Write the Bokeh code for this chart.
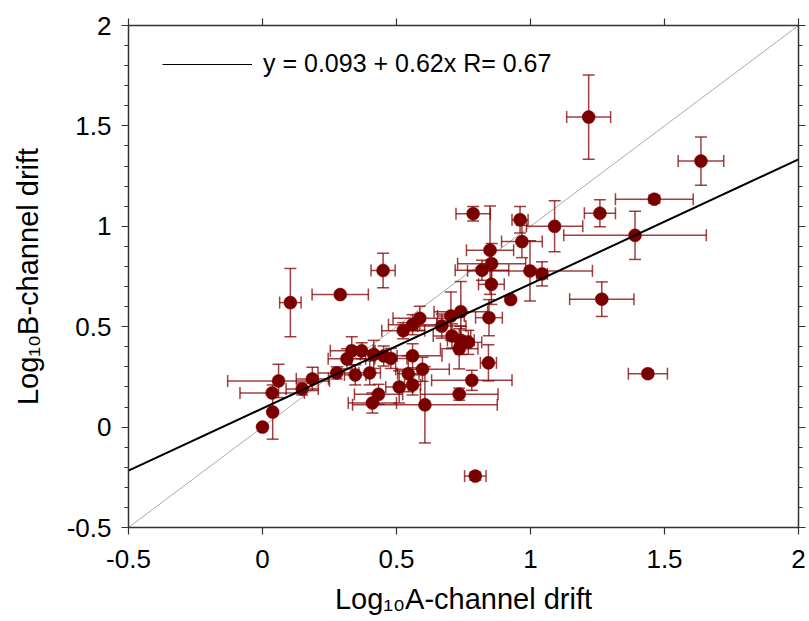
import numpy as np
from bokeh.plotting import figure
from bokeh.models import (Range1d, LinearAxis, FixedTicker, Whisker, TeeHead,
                          ColumnDataSource, Slope, Legend, LegendItem)
from bokeh.embed import file_html
from bokeh.resources import INLINE

# ---------------- data ----------------
a_drift = [0.000, 0.038, 0.036, 0.060, 0.104, 0.290, 0.450, 0.148, 0.186, 0.277,
           0.315, 0.333, 0.370, 0.346, 0.400, 0.415, 0.452, 0.479, 0.433, 0.410,
           0.510, 0.560, 0.544, 0.597, 0.606, 0.560, 0.525, 0.560, 0.587, 0.669,
           0.703, 0.740, 0.845, 0.707, 0.740, 0.768, 0.734, 0.843, 0.781, 0.734,
           0.794, 0.786, 0.961, 1.090, 1.259, 1.217, 1.636, 1.462, 1.390, 1.266,
           1.438, 0.968, 0.849, 0.855, 0.819, 0.998, 1.043, 0.854, 0.926]
b_drift = [0.000, 0.075, 0.170, 0.230, 0.620, 0.660, 0.780, 0.190, 0.240, 0.270,
           0.340, 0.380, 0.380, 0.260, 0.270, 0.362, 0.354, 0.342, 0.163, 0.120,
           0.200, 0.210, 0.266, 0.288, 0.111, 0.355, 0.480, 0.510, 0.542, 0.503,
           0.553, 0.575, 0.545, 0.454, 0.432, 0.422, 0.390, 0.320, 0.233, 0.164,
           -0.244, 1.063, 1.033, 1.000, 1.065, 1.544, 1.325, 1.135, 0.955, 0.637,
           0.266, 0.924, 0.881, 0.814, 0.781, 0.778, 0.763, 0.711, 0.635]
a_err = [0.000, 0.000, 0.120, 0.190, 0.040, 0.105, 0.045, 0.060, 0.060, 0.070,
         0.070, 0.080, 0.050, 0.040, 0.040, 0.050, 0.050, 0.060, 0.090, 0.090,
         0.050, 0.030, 0.040, 0.100, 0.270, 0.110, 0.080, 0.090, 0.100, 0.090,
         0.050, 0.100, 0.050, 0.070, 0.050, 0.050, 0.070, 0.030, 0.150, 0.145,
         0.040, 0.064, 0.030, 0.105, 0.058, 0.082, 0.085, 0.145, 0.266, 0.120,
         0.073, 0.076, 0.088, 0.127, 0.100, 0.233, 0.020, 0.048, 0.000]
b_err = [0.000, 0.135, 0.000, 0.083, 0.170, 0.000, 0.086, 0.030, 0.058, 0.030,
         0.050, 0.070, 0.040, 0.050, 0.060, 0.070, 0.050, 0.050, 0.050, 0.050,
         0.080, 0.050, 0.090, 0.060, 0.190, 0.060, 0.040, 0.050, 0.060, 0.060,
         0.120, 0.150, 0.090, 0.060, 0.070, 0.060, 0.100, 0.090, 0.050, 0.030,
         0.020, 0.036, 0.066, 0.127, 0.067, 0.210, 0.120, 0.020, 0.120, 0.086,
         0.015, 0.080, 0.220, 0.100, 0.050, 0.150, 0.060, 0.100, 0.000]

fit_intercept = 0.093
fit_slope = 0.62
fit_r = 0.67
fit_label = f"y = {fit_intercept} + {fit_slope}x R= {fit_r}"

x_min, x_max = -0.5, 2.0
y_min, y_max = -0.5, 2.0
x_ticks = [-0.5, 0.0, 0.5, 1.0, 1.5, 2.0]
x_tick_labels = ["-0.5", "0", "0.5", "1", "1.5", "2"]
y_ticks = [-0.5, 0.0, 0.5, 1.0, 1.5, 2.0]
y_tick_labels = ["-0.5", "0", "0.5", "1", "1.5", "2"]

x_title = "Log\u2081\u2080A-channel drift"
y_title = "Log\u2081\u2080B-channel drift"

# ---------------- figure ----------------
FONT = "Liberation Sans"
AX_COLOR = "#333333"
MARK = "#7a0000"
ERR = "#800000"

p = figure(width=808, height=620, output_backend="svg", toolbar_location=None,
           x_range=Range1d(x_min, x_max), y_range=Range1d(y_min, y_max),
           min_border_left=128, min_border_right=10, min_border_top=25,
           min_border_bottom=93)
p.xgrid.grid_line_color = None
p.ygrid.grid_line_color = None
p.outline_line_color = None
p.background_fill_color = "white"

bottom_axis = p.below[0]
left_axis = p.left[0]

y_minor = [round(v, 2) for v in np.arange(y_min, y_max + 0.0001, 0.1)]

def style_axis(ax, ticks, labels, minor, show_labels, standoff):
    ax.ticker = FixedTicker(ticks=ticks, minor_ticks=minor)
    ax.axis_line_color = AX_COLOR
    ax.axis_line_width = 1.5
    ax.major_tick_line_color = AX_COLOR
    ax.major_tick_line_width = 1.2
    ax.major_tick_in = 0
    ax.major_tick_out = 7
    ax.minor_tick_in = 0
    ax.minor_tick_out = 4
    ax.minor_tick_line_color = AX_COLOR if minor else None
    ax.minor_tick_line_width = 1
    ax.major_label_overrides = {t: l for t, l in zip(ticks, labels)}
    ax.major_label_text_font = FONT
    ax.major_label_standoff = standoff
    if show_labels:
        ax.major_label_text_font_size = "26px"
        ax.major_label_text_color = "black"
    else:
        ax.major_label_text_font_size = "1px"
        ax.major_label_text_color = None

style_axis(bottom_axis, x_ticks, x_tick_labels, [], True, 15)
style_axis(left_axis, y_ticks, y_tick_labels, y_minor, True, 10)
top_axis = LinearAxis(axis_label=None)
right_axis = LinearAxis(axis_label=None)
style_axis(top_axis, x_ticks, x_tick_labels, [], False, 0)
style_axis(right_axis, y_ticks, y_tick_labels, y_minor, False, 0)
p.add_layout(top_axis, "above")
p.add_layout(right_axis, "right")

for ax, title, standoff in ((bottom_axis, x_title, 12), (left_axis, y_title, 20)):
    ax.axis_label = title
    ax.axis_label_text_font = FONT
    ax.axis_label_text_font_size = "29px"
    ax.axis_label_text_font_style = "normal"
    ax.axis_label_text_color = "black"
    ax.axis_label_standoff = standoff

# identity line
p.add_layout(Slope(gradient=1, y_intercept=0, line_color="#aaaaaa",
                   line_width=1, level="underlay"))

# error bars
xa = np.array(a_drift); yb = np.array(b_drift)
ea = np.array(a_err); eb = np.array(b_err)
mx = ea > 0
my = eb > 0
src_x = ColumnDataSource(dict(y=yb[mx], lo=(xa - ea)[mx], hi=(xa + ea)[mx]))
src_y = ColumnDataSource(dict(x=xa[my], lo=(yb - eb)[my], hi=(yb + eb)[my]))

def head():
    return TeeHead(size=12, line_color=ERR, line_alpha=0.75, line_width=1.5)

p.add_layout(Whisker(source=src_x, base="y", lower="lo", upper="hi",
                     dimension="width", line_color=ERR, line_alpha=0.75,
                     line_width=1.5, upper_head=head(), lower_head=head()))
p.add_layout(Whisker(source=src_y, base="x", lower="lo", upper="hi",
                     dimension="height", line_color=ERR, line_alpha=0.75,
                     line_width=1.5, upper_head=head(), lower_head=head()))

p.scatter(a_drift, b_drift, size=13, fill_color=MARK, line_color=MARK,
          line_width=0.5)

# fit line (thin copy used as legend key, thick one on top)
fit_x = [x_min, x_max]
fit_y = [fit_intercept + fit_slope * v for v in fit_x]
key = p.line(fit_x, fit_y, line_color="black", line_width=1)
p.line(fit_x, fit_y, line_color="black", line_width=2)

legend = Legend(items=[LegendItem(label=fit_label, renderers=[key])],
                location=(34, 449), padding=0, margin=0, spacing=0,
                glyph_width=90, glyph_height=20, label_height=20,
                label_standoff=11, label_text_font=FONT,
                label_text_font_size="25px", label_text_color="black",
                background_fill_alpha=0, border_line_color=None)
p.add_layout(legend)

open("out.html", "w").write(file_html(p, INLINE))
